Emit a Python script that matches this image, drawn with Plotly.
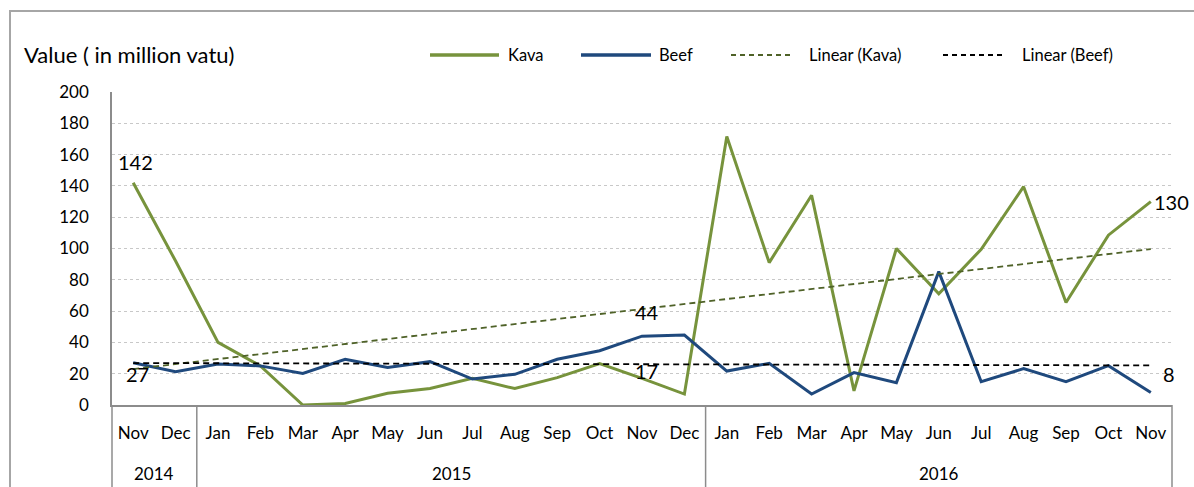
import plotly.graph_objects as go
import numpy as np

months = ["Nov", "Dec",
          "Jan", "Feb", "Mar", "Apr", "May", "Jun", "Jul", "Aug", "Sep", "Oct", "Nov", "Dec",
          "Jan", "Feb", "Mar", "Apr", "May", "Jun", "Jul", "Aug", "Sep", "Oct", "Nov"]
years = ["2014", "2015", "2016"]
year_counts = [2, 12, 11]

kava = [142, 92, 40, 25, 0, 1, 7.5, 10.5, 17, 10.5, 17.5, 26.5, 17, 7,
        171.5, 91, 134, 9, 100, 71, 99.5, 139.5, 65.5, 108.5, 130]
beef = [27, 21.3, 26.2, 25, 20.2, 29.2, 24, 27.7, 16.6, 19.6, 29.2, 34.7, 44, 44.7,
        21.7, 26.6, 7, 20.7, 14.3, 85.2, 14.9, 23.2, 14.9, 25.1, 8]

KAVA_C = "#77933C"
BEEF_C = "#1F497D"
KTREND_C = "#4F6228"
BTREND_C = "#000000"
FONT = "Lato"

x = np.arange(len(months))
kfit = np.polyfit(x, kava, 1)
bfit = np.polyfit(x, beef, 1)
ktrend = np.polyval(kfit, x)
btrend = np.polyval(bfit, x)

fig = go.Figure()
fig.add_trace(go.Scatter(x=x, y=kava, mode="lines", name="Kava",
                         line=dict(color=KAVA_C, width=3), showlegend=False))
fig.add_trace(go.Scatter(x=x, y=beef, mode="lines", name="Beef",
                         line=dict(color=BEEF_C, width=3), showlegend=False))
fig.add_trace(go.Scatter(x=x, y=ktrend, mode="lines", name="Linear (Kava)",
                         line=dict(color=KTREND_C, width=1.8, dash="6px,4px"), showlegend=False))
fig.add_trace(go.Scatter(x=x, y=btrend, mode="lines", name="Linear (Beef)",
                         line=dict(color=BTREND_C, width=1.8, dash="6px,4px"), showlegend=False))

W, H = 1194, 487
L, R, T, B = 112, 22, 92, 82
pw, ph = W - L - R, H - T - B


def px(xp):
    return (xp - L) / pw


def py(yp):
    return (H - B - yp) / ph


n = len(months)
annotations = []
# data labels
lab_font = dict(family=FONT, size=20, color="#000")
label_specs = [
    (0, kava[0], 2, 21, "center"),
    (0, beef[0], 4, -11, "center"),
    (12, beef[12], 5, 24, "center"),
    (12, kava[12], 4, 7, "center"),
    (24, kava[24], 1, 0, "left"),
    (24, beef[24], 10, 18, "left"),
]
for xi, yv, xs, ys, anc in label_specs:
    annotations.append(dict(x=xi, y=yv, xref="x", yref="y", text=f"{yv:g}",
                            showarrow=False, xshift=xs, yshift=ys, xanchor=anc,
                            font=lab_font))

# year labels, centred in each group
start = 0
for yr, cnt in zip(years, year_counts):
    mid = start + (cnt - 1) / 2
    annotations.append(dict(x=mid, y=0, xref="x", yref="paper", text=yr,
                            showarrow=False, yshift=-68, yanchor="middle",
                            font=dict(family=FONT, size=17, color="#000")))
    start += cnt

# y-axis title
annotations.append(dict(x=px(22), y=py(55), xref="paper", yref="paper",
                        text="Value ( in million vatu)",
                        showarrow=False, xanchor="left", yanchor="middle",
                        font=dict(family=FONT, size=22, color="#000")))

shapes = []
# outer frame
shapes.append(dict(type="rect", xref="paper", yref="paper", x0=px(10), x1=px(1210),
                   y0=py(500), y1=py(11), line=dict(color="#a6a6a6", width=2)))
# table lines below axis
bounds = [0]
acc = 0
for cnt in year_counts:
    acc += cnt
    bounds.append(acc)
for bnd in bounds:
    shapes.append(dict(type="line", xref="paper", yref="paper", x0=bnd / n, x1=bnd / n,
                       y0=0, y1=py(H + 5), line=dict(color="#8c8c8c", width=1.5)))

# custom legend
leg_items = [
    ("Kava", KAVA_C, 3.5, "solid", 430, 499, 506),
    ("Beef", BEEF_C, 3.5, "solid", 581, 651, 657),
    ("Linear (Kava)", KTREND_C, 1.8, "5px,4px", 731, 792, 807),
    ("Linear (Beef)", BTREND_C, 1.8, "5px,4px", 943, 1005, 1020),
]
for name, col, wd, dsh, x0, x1, tx in leg_items:
    shapes.append(dict(type="line", xref="paper", yref="paper", x0=px(x0), x1=px(x1),
                       y0=py(55), y1=py(55), line=dict(color=col, width=wd, dash=dsh)))
    annotations.append(dict(x=px(tx), y=py(55), xref="paper", yref="paper", text=name,
                            showarrow=False, xanchor="left", yanchor="middle",
                            font=dict(family=FONT, size=16.5, color="#000")))

fig.update_layout(
    width=W, height=H,
    margin=dict(l=L, r=R, t=T, b=B, pad=0, autoexpand=False),
    paper_bgcolor="white", plot_bgcolor="white",
    font=dict(family=FONT, size=17, color="#000"),
    showlegend=False,
    annotations=annotations,
    shapes=shapes,
    xaxis=dict(range=[-0.5, n - 0.5], tickmode="array", tickvals=list(x), ticktext=months,
               showgrid=False, zeroline=False, showline=True, linecolor="#8c8c8c", linewidth=1.5,
               ticks="", ticklabelstandoff=12, tickfont=dict(family=FONT, size=17, color="#000")),
    yaxis=dict(range=[0, 200], tickmode="linear", tick0=0, dtick=20,
               showgrid=True, gridcolor="#c8c8c8", griddash="dot", gridwidth=1,
               zeroline=False, showline=True, linecolor="#8c8c8c", linewidth=1.5,
               ticks="", ticklabelstandoff=18, tickfont=dict(family=FONT, size=17, color="#000")),
)

fig.write_html("out.html", config={"displayModeBar": False},
               post_script="document.body.style.margin='0';document.body.style.padding='0';")
